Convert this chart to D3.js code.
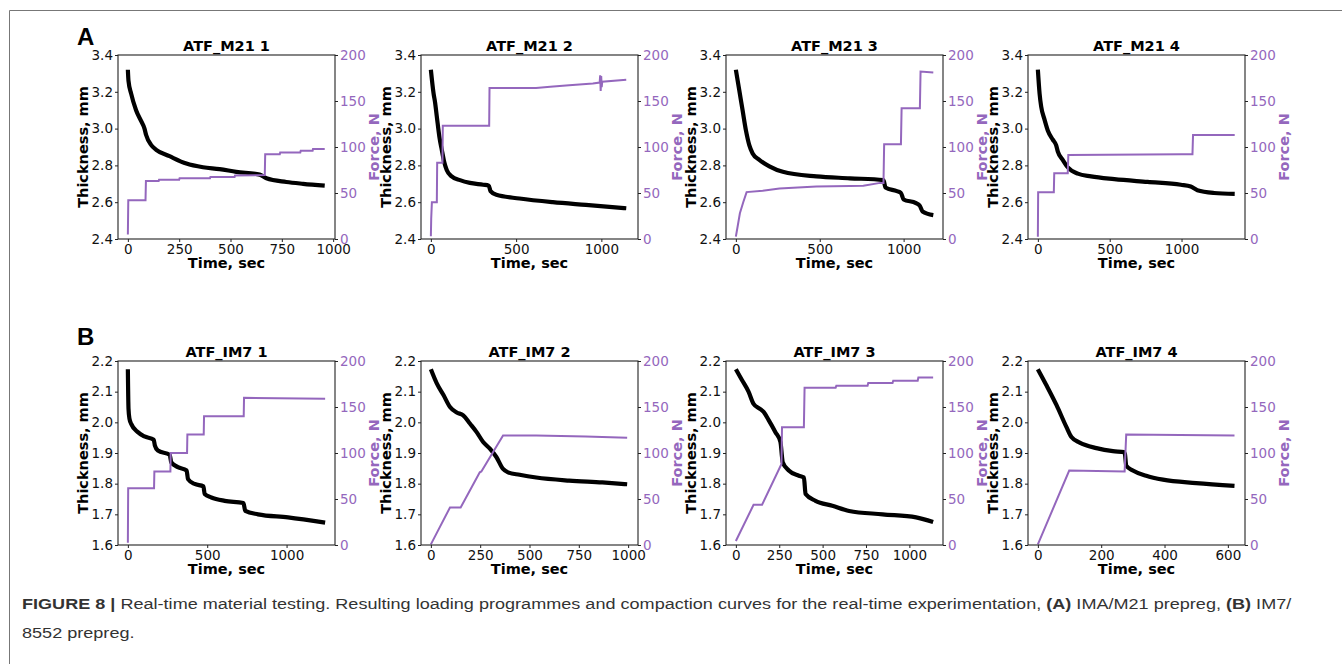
<!DOCTYPE html>
<html>
<head>
<meta charset="utf-8">
<script src="https://cdn.jsdelivr.net/npm/d3@7"></script>
<style>
  body { margin: 0; background: #fff; }
  svg { display: block; }
</style>
</head>
<body>
<div id="wrapper"></div>
<script>
// panel titles and time extent (s)
const titles = ["ATF_M21 1", "ATF_M21 2", "ATF_M21 3", "ATF_M21 4",
                "ATF_IM7 1", "ATF_IM7 2", "ATF_IM7 3", "ATF_IM7 4"];
const timeMax = [961, 1157, 1176, 1373, 1243, 1000, 1137, 623];
const timeTicks = [
  [0, 250, 500, 750, 1000], [0, 500, 1000], [0, 500, 1000], [0, 500, 1000],
  [0, 500, 1000], [0, 250, 500, 750, 1000], [0, 250, 500, 750, 1000], [0, 200, 400, 600]
];
const thickTicksA = [2.4, 2.6, 2.8, 3.0, 3.2, 3.4];
const thickTicksB = [1.6, 1.7, 1.8, 1.9, 2.0, 2.1, 2.2];
const forceTicks = [0, 50, 100, 150, 200];

// thickness, mm  [time s, value]
const thickA1 = [[0,3.32],[3,3.26],[16,3.19],[40,3.10],[65,3.04],[81,3.00],[89,2.965],[114,2.91],[138,2.885],[203,2.85],[285,2.81],[366,2.79],[447,2.78],[528,2.765],[642,2.75],[675,2.73],[772,2.71],[854,2.70],[959,2.69]];
const thickA2 = [[0,3.32],[16,3.19],[25,3.14],[35,3.065],[50,2.955],[64,2.885],[78,2.82],[93,2.775],[122,2.74],[171,2.72],[229,2.705],[307,2.695],[340,2.69],[350,2.66],[384,2.64],[520,2.62],[715,2.60],[909,2.585],[1146,2.567]];
const thickA3 = [[0,3.32],[20,3.21],[40,3.10],[60,2.99],[80,2.91],[100,2.865],[140,2.83],[200,2.795],[280,2.765],[480,2.74],[680,2.73],[880,2.72],[892,2.68],[960,2.66],[984,2.65],[1000,2.615],[1074,2.595],[1097,2.58],[1113,2.55],[1177,2.53]];
const thickA4 = [[0,3.32],[12,3.19],[23,3.12],[46,3.05],[69,2.99],[104,2.94],[127,2.91],[139,2.875],[173,2.83],[208,2.79],[278,2.755],[370,2.74],[532,2.725],[763,2.71],[995,2.695],[1064,2.685],[1110,2.665],[1226,2.65],[1370,2.645]];
const thickB1 = [[0,2.173],[4,2.045],[10,2.012],[21,1.995],[63,1.968],[105,1.954],[163,1.943],[170,1.925],[189,1.908],[264,1.894],[273,1.87],[315,1.854],[370,1.843],[379,1.815],[421,1.799],[476,1.791],[484,1.766],[526,1.755],[610,1.744],[728,1.737],[740,1.711],[820,1.70],[1009,1.69],[1243,1.673]];
const thickB2 = [[0,2.173],[30,2.127],[64,2.089],[97,2.05],[131,2.032],[164,2.023],[198,1.996],[232,1.968],[265,1.936],[299,1.914],[332,1.887],[366,1.848],[391,1.837],[450,1.829],[534,1.82],[701,1.81],[869,1.804],[995,1.798]];
const thickB3 = [[0,2.173],[35,2.138],[73,2.10],[102,2.06],[141,2.043],[160,2.034],[189,2.007],[228,1.968],[257,1.936],[266,1.887],[270,1.87],[305,1.843],[363,1.826],[392,1.82],[402,1.766],[459,1.744],[556,1.728],[653,1.711],[846,1.70],[1039,1.69],[1137,1.675]];
const thickB4 = [[0,2.173],[27,2.121],[59,2.056],[90,1.985],[106,1.952],[132,1.934],[185,1.916],[237,1.906],[272,1.903],[275,1.897],[279,1.859],[300,1.843],[342,1.826],[395,1.813],[500,1.802],[621,1.793]];

// force, N  [time s, value]
const forceA1 = [[0,5],[2,42],[86,42],[88,63],[150,63],[152,64.5],[250,64.5],[252,66],[400,66],[402,67.5],[520,67.5],[522,69],[667,69.5],[669,92],[740,92],[742,94],[840,94],[842,96],[900,96],[902,97.8],[959,97.8]];
const forceA2 = [[0,3],[2,22],[6,40],[35,40],[37,83],[68,83],[70,123],[342,123],[344,164],[617,164],[700,165.5],[811,167],[950,169],[990,170],[993,178],[996,161],[999,177],[1002,165],[1005,171],[1146,173]];
const forceA3 = [[0,2.5],[10,13],[24,28],[44,40],[64,51],[160,52.5],[260,55],[480,57],[680,57.6],[760,58],[860,61],[880,61],[884,103],[984,103],[988,142],[1097,142],[1101,182],[1177,181]];
const forceA4 = [[0,2.5],[2,50.7],[111,50.7],[114,71.4],[208,71.4],[212,91.3],[1000,92],[1076,92],[1080,113],[1370,113]];
const forceB1 = [[0,2.5],[2,61.6],[165,61.6],[167,80],[268,80],[270,100],[373,100],[375,120],[478,120],[480,140],[730,140],[732,160],[1243,159]];
const forceB2 = [[0,0.7],[97,40.8],[151,40.8],[248,79],[256,80],[366,119],[534,119],[785,118],[995,116.6]];
const forceB3 = [[0,4.4],[102,43.7],[151,43.7],[263,88],[266,128],[392,128],[396,171],[575,171],[579,173],[759,173],[763,176],[903,176],[907,178.5],[1048,178.5],[1052,182],[1137,182]];
const forceB4 = [[0,0.7],[99,80.9],[274,80],[279,120],[621,119]];

const thickSeries = [thickA1, thickA2, thickA3, thickA4, thickB1, thickB2, thickB3, thickB4];
const forceSeries = [forceA1, forceA2, forceA3, forceA4, forceB1, forceB2, forceB3, forceB4];

const purple = "#9467bd";
const colLeft = [118, 421, 726, 1028];
const rowTop = [55, 361];
const W = 217, H = 184;

const svg = d3.select("#wrapper").append("svg")
    .attr("width", 1342)
    .attr("height", 664);

// outer figure frame
svg.append("path")
    .attr("d", "M9.5,664 V10.5 H1342")
    .attr("fill", "none")
    .attr("stroke", "#777")
    .attr("stroke-width", 1);

function drawPanel(i) {
    const row = Math.floor(i / 4), col = i % 4;
    const g = svg.append("g")
        .attr("transform", `translate(${colLeft[col]},${rowTop[row]})`);

    const xScaler = d3.scaleLinear()
        .domain([-0.05 * timeMax[i], 1.05 * timeMax[i]])
        .range([0, W]);
    const yScaler = d3.scaleLinear()
        .domain(row === 0 ? [2.4, 3.4] : [1.6, 2.2])
        .range([H, 0]);
    const fScaler = d3.scaleLinear().domain([0, 200]).range([H, 0]);

    const thickLine = d3.line()
        .x(d => xScaler(d[0]))
        .y(d => yScaler(d[1]))
        .curve(d3.curveMonotoneX);
    const forceLine = d3.line()
        .x(d => xScaler(d[0]))
        .y(d => fScaler(d[1]));

    g.append("path")
        .attr("d", thickLine(thickSeries[i]))
        .attr("fill", "none")
        .attr("stroke", "#000")
        .attr("stroke-width", 4.2)
        .attr("stroke-linejoin", "round");

    g.append("path")
        .attr("d", forceLine(forceSeries[i]))
        .attr("fill", "none")
        .attr("stroke", purple)
        .attr("stroke-width", 2);

    const xAxis = d3.axisBottom(xScaler).tickValues(timeTicks[i])
        .tickSize(3).tickPadding(2.5).tickFormat(d3.format("d"));
    const yAxis = d3.axisLeft(yScaler).tickValues(row === 0 ? thickTicksA : thickTicksB)
        .tickSize(3).tickPadding(2).tickFormat(d3.format(".1f"));
    const fAxis = d3.axisRight(fScaler).tickValues(forceTicks)
        .tickSize(3).tickPadding(2).tickFormat(d3.format("d"));

    const gx = g.append("g").attr("transform", `translate(0,${H})`).call(xAxis);
    const gy = g.append("g").call(yAxis);
    const gf = g.append("g").attr("transform", `translate(${W},0)`).call(fAxis);
    [gx, gy, gf].forEach(a => {
        a.select(".domain").remove();
        a.selectAll("text")
            .attr("font-family", "DejaVu Sans")
            .attr("font-size", "13.5px")
            .attr("fill", "#111");
        a.selectAll("line").attr("stroke", "#222");
    });
    gf.selectAll("text").attr("fill", purple);

    g.append("rect")
        .attr("width", W).attr("height", H)
        .attr("fill", "none")
        .attr("stroke", "#222")
        .attr("stroke-width", 1.1);

    g.append("text")
        .attr("x", W / 2).attr("y", -4)
        .attr("text-anchor", "middle")
        .attr("font-family", "DejaVu Sans")
        .attr("font-weight", "bold")
        .attr("font-size", "14.5px")
        .text(titles[i]);

    g.append("text")
        .attr("x", W / 2).attr("y", H + 29)
        .attr("text-anchor", "middle")
        .attr("font-family", "DejaVu Sans")
        .attr("font-weight", "bold")
        .attr("font-size", "14.5px")
        .text("Time, sec");

    g.append("text")
        .attr("transform", `translate(-30,${H / 2}) rotate(-90)`)
        .attr("text-anchor", "middle")
        .attr("font-family", "DejaVu Sans")
        .attr("font-weight", "bold")
        .attr("font-size", "14.5px")
        .text("Thickness, mm");

    g.append("text")
        .attr("transform", `translate(${W + 44},${H / 2}) rotate(-90)`)
        .attr("text-anchor", "middle")
        .attr("font-family", "DejaVu Sans")
        .attr("font-weight", "bold")
        .attr("font-size", "14.5px")
        .attr("fill", purple)
        .text("Force, N");
}

// draw right-to-left so each panel's left label sits over its neighbour's force label
for (let i = 7; i >= 0; i--) drawPanel(i);

svg.append("text").attr("x", 77).attr("y", 45)
    .attr("font-family", "Liberation Sans").attr("font-weight", "bold")
    .attr("font-size", "24px").text("A");
svg.append("text").attr("x", 77).attr("y", 345)
    .attr("font-family", "Liberation Sans").attr("font-weight", "bold")
    .attr("font-size", "24px").text("B");

// caption
const cap1 = svg.append("text")
    .attr("font-family", "'Liberation Sans Narrow', 'Liberation Sans'")
    .attr("font-size", "15.5px").attr("fill", "#333");
cap1.append("tspan").attr("font-weight", "bold").text("FIGURE 8 |");
cap1.append("tspan").text(" Real-time material testing. Resulting loading programmes and compaction curves for the real-time experimentation, ");
cap1.append("tspan").attr("font-weight", "bold").text("(A)");
cap1.append("tspan").text(" IMA/M21 prepreg, ");
cap1.append("tspan").attr("font-weight", "bold").text("(B)");
cap1.append("tspan").text(" IM7/");
const cap2 = svg.append("text")
    .attr("font-family", "'Liberation Sans Narrow', 'Liberation Sans'")
    .attr("font-size", "15.5px").attr("fill", "#333")
    .text("8552 prepreg.");
const sx = 1270 / cap1.node().getComputedTextLength();
cap1.attr("transform", `translate(22,609) scale(${sx},1)`);
cap2.attr("transform", `translate(22,638) scale(${sx},1)`);
</script>
</body>
</html>
